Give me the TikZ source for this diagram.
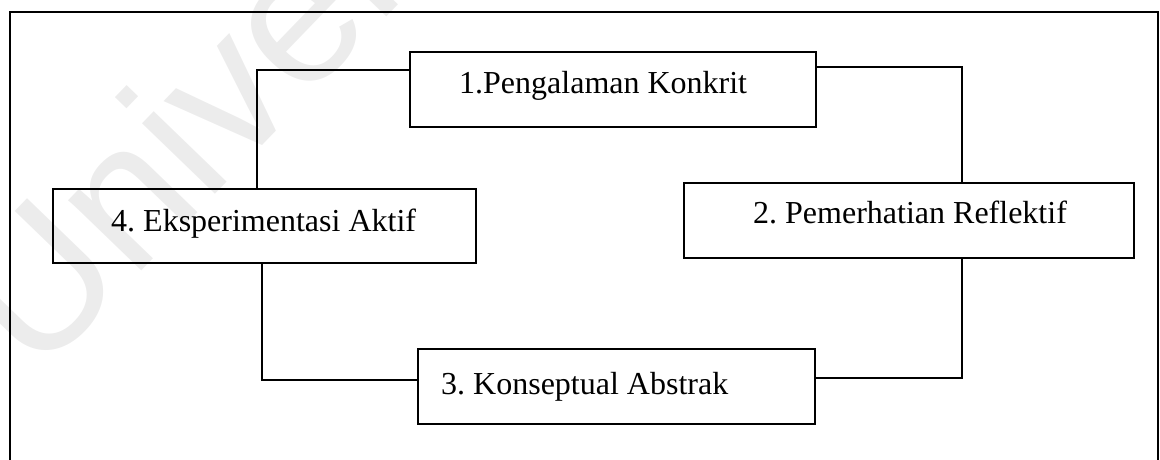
\documentclass[tikz,border=0pt]{standalone}
\usepackage{fontspec}
\setmainfont{Liberation Serif}
\newfontfamily\wmfont{Liberation Sans}
\definecolor{wmgray}{HTML}{ECECEC}
\frenchspacing
\begin{document}
\begin{tikzpicture}[x=1pt,y=-1pt,
  stage/.style={draw, line width=2.4pt, rectangle, inner sep=0pt, anchor=north west,
    align=flush left, font=\fontsize{32}{36}\selectfont\frenchspacing},
  link/.style={line width=2pt},
  frame/.style={line width=1.5pt},
  wm/.style={text=wmgray, inner sep=0pt, font=\wmfont\fontsize{192}{200}\selectfont}]
\useasboundingbox (0,0) rectangle (1160,459);
\begin{scope}
\clip (0,0) rectangle (1160,459);
\node[wm, rotate=46, anchor=base west] (wm) at (36,380) {University of Malaya};
\end{scope}
\draw[frame] (10,470) -- (10,12) -- (1158,12) -- (1158,470);

\node[stage, text width=406pt, text height=41pt, text depth=34pt] (n1) at (409,51)
  {\hspace*{49pt}1.Pengalaman Konkrit};
\node[stage, text width=450pt, text height=40pt, text depth=35pt] (n2) at (683,182)
  {\hspace*{69pt}2. Pemerhatian Reflektif};
\node[stage, text width=397pt, text height=45pt, text depth=30pt] (n3) at (417,348)
  {\hspace*{23pt}3. Konseptual Abstrak};
\node[stage, text width=423pt, text height=42pt, text depth=32pt] (n4) at (52,188)
  {\hspace*{58pt}4. Eksperimentasi Aktif};

\coordinate (tl) at (257,70);
\coordinate (tr) at (962,67);
\coordinate (br) at (962,378);
\coordinate (bl) at (262,380);
\draw[link] (n1.west |- tl) -- (tl) -- (tl |- n4.north);
\draw[link] (n1.east |- tr) -- (tr) -- (tr |- n2.north);
\draw[link] (n2.south -| br) -- (br) -- (br -| n3.east);
\draw[link] (n4.south -| bl) -- (bl) -- (bl -| n3.west);
\end{tikzpicture}
\end{document}
